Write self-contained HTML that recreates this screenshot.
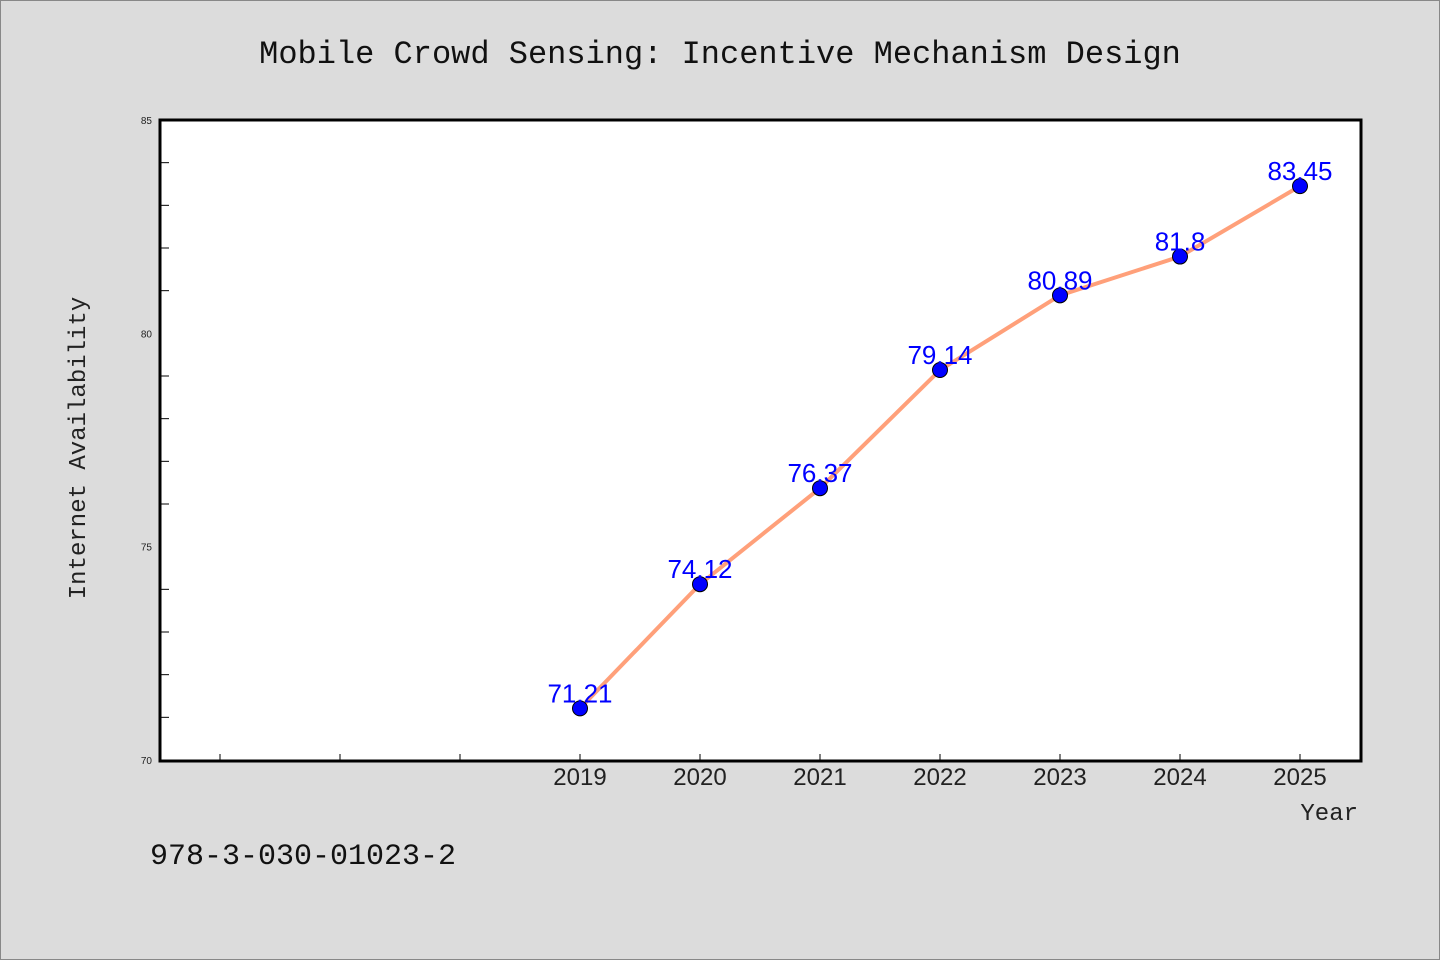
<!DOCTYPE html>
<html><head><meta charset="utf-8"><style>
html,body{margin:0;padding:0;background:#dcdcdc;}
svg{display:block;}
</style></head><body>
<svg id="chart" width="1440" height="960" xmlns="http://www.w3.org/2000/svg">
<rect x="0.5" y="0.5" width="1439" height="959" fill="#dcdcdc" stroke="#888"/>
<text x="720" y="63" text-anchor="middle" font-family="Liberation Mono, monospace" font-size="32" fill="#111">Mobile Crowd Sensing: Incentive Mechanism Design</text>
<rect x="160" y="120" width="1201" height="641" fill="#fff" stroke="#000" stroke-width="3"/>
<g id="yticks"></g><g id="xticks"></g><g id="series"></g>
<text transform="translate(85,448) rotate(-90)" text-anchor="middle" font-family="Liberation Mono, monospace" font-size="24" fill="#222">Internet Availability</text>
<text x="1358" y="820" text-anchor="end" font-family="Liberation Mono, monospace" font-size="24" fill="#222">Year</text>
<text x="150" y="864" font-family="Liberation Mono, monospace" font-size="30" fill="#111">978-3-030-01023-2</text>
</svg>
<script>
const years=[2019,2020,2021,2022,2023,2024,2025];
const values=[71.21,74.12,76.37,79.14,80.89,81.8,83.45];
const labels=["71.21","74.12","76.37","79.14","80.89","81.8","83.45"];
const yTickLabels=["70","75","80","85"];
const NS="http://www.w3.org/2000/svg";
function X(v){return 160+(v-2015.5)*120;}
function Y(v){return 760-(v-70)*(640/15);}
function mk(t,a,p){const e=document.createElementNS(NS,t);for(const k in a)e.setAttribute(k,a[k]);p.appendChild(e);return e;}
const yt=document.getElementById('yticks');
for(let v=71;v<85;v++){if(v%5===0)continue;const l=mk('line',{x1:160,x2:169,y1:Y(v),y2:Y(v),stroke:'#000','stroke-width':1},yt);

}
yTickLabels.forEach(s=>{const t=mk('text',{x:152,y:Y(+s)+4,'text-anchor':'end','font-family':'Liberation Sans, sans-serif','font-size':10,fill:'#222'},yt);t.textContent=s;

});
const xt=document.getElementById('xticks');
for(let v=2016;v<=2025;v++){const l=mk('line',{x1:X(v),x2:X(v),y1:754,y2:761,stroke:'#000','stroke-width':1},xt);

}
years.forEach(v=>{const t=mk('text',{x:X(v),y:785,'text-anchor':'middle','font-family':'Liberation Sans, sans-serif','font-size':24,fill:'#222'},xt);t.textContent=v;

});
const s=document.getElementById('series');
const pl=mk('polyline',{points:years.map((y,i)=>X(y)+','+Y(values[i])).join(' '),fill:'none',stroke:'#ffa07a','stroke-width':4},s);


years.forEach((y,i)=>{const c=mk('circle',{cx:X(y),cy:Y(values[i]),r:7.5,fill:'#0000ff',stroke:'#000','stroke-width':1},s);


const t=mk('text',{x:X(y),y:Y(values[i])-6,'text-anchor':'middle','font-family':'Liberation Sans, sans-serif','font-size':26,fill:'#0000ff'},s);t.textContent=labels[i];

});
</script>
</body></html>
